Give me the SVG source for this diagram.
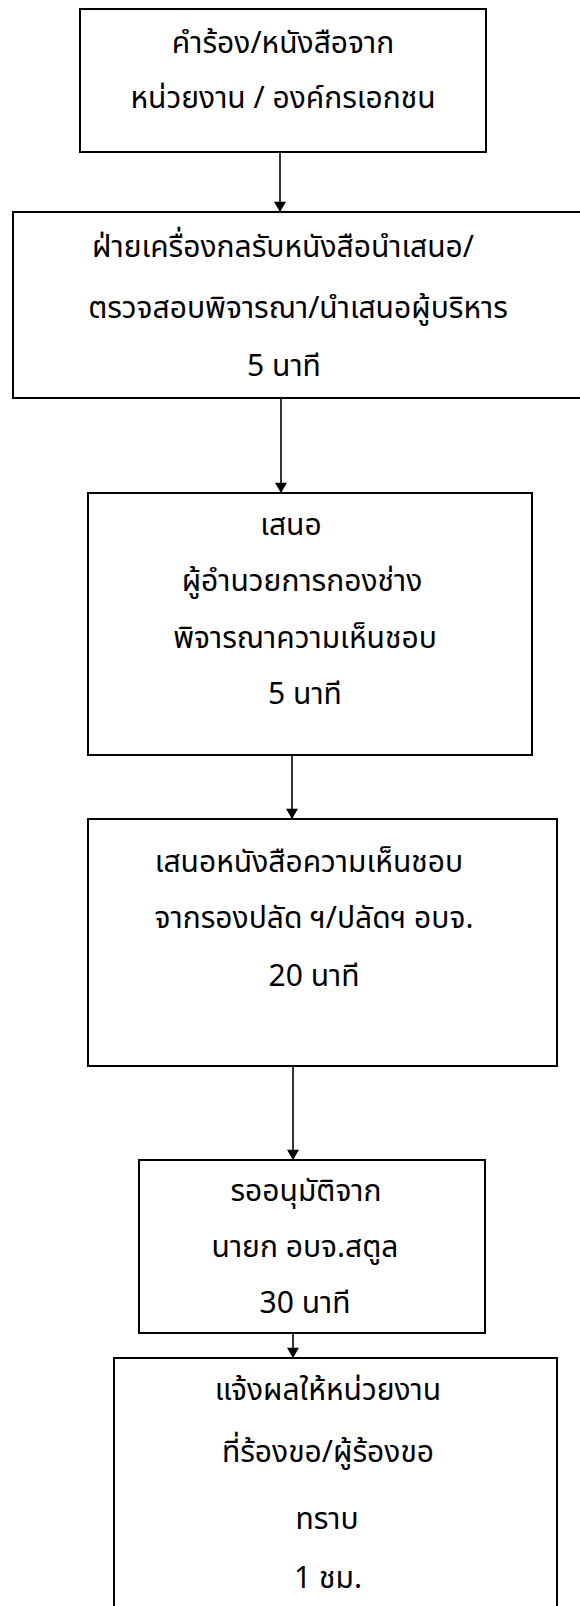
<svg xmlns="http://www.w3.org/2000/svg" width="580" height="1606" viewBox="0 0 580 1606">
<style>
.box{fill:#fff;stroke:#000;stroke-width:2}
.t{font-family:Tahoma,"Noto Sans Thai","Noto Sans Thai UI",Loma,Garuda,"Noto Sans",sans-serif;font-size:30px;fill:#000;text-anchor:middle}
.c{stroke:#000;stroke-width:1.6;fill:none}
</style>
<defs>
<marker id="ah" viewBox="0 0 12 14" refX="12" refY="7" markerWidth="14" markerHeight="12" markerUnits="userSpaceOnUse" orient="auto">
<path d="M0,0 L12,7 L0,14 Z" fill="#000"/>
</marker>
</defs>
<rect width="580" height="1606" fill="#fff"/>
<g id="connectors">
<line class="c" x1="280" y1="152" x2="280" y2="212" marker-end="url(#ah)"/>
<line class="c" x1="281" y1="398" x2="281" y2="493" marker-end="url(#ah)"/>
<line class="c" x1="292" y1="755" x2="292" y2="819" marker-end="url(#ah)"/>
<line class="c" x1="293" y1="1066" x2="293" y2="1160" marker-end="url(#ah)"/>
<line class="c" x1="293" y1="1333" x2="293" y2="1358" marker-end="url(#ah)"/>
</g>
<g id="n1">
<rect class="box" x="80" y="9" width="406" height="143"/>
<text class="t" x="283" y="53">คำร้อง/หนังสือจาก</text>
<text class="t" x="283" y="108">หน่วยงาน / องค์กรเอกชน</text>
</g>
<g id="n2">
<rect class="box" x="13" y="212" width="600" height="186"/>
<text class="t" x="283" y="257">ฝ่ายเครื่องกลรับหนังสือนำเสนอ/</text>
<text class="t" x="298" y="318">ตรวจสอบพิจารณา/นำเสนอผู้บริหาร</text>
<text class="t" x="284" y="376">5 นาที</text>
</g>
<g id="n3">
<rect class="box" x="88" y="493" width="444" height="262"/>
<text class="t" x="291" y="535">เสนอ</text>
<text class="t" x="302" y="591">ผู้อำนวยการกองช่าง</text>
<text class="t" x="305" y="648">พิจารณาความเห็นชอบ</text>
<text class="t" x="305" y="704">5 นาที</text>
</g>
<g id="n4">
<rect class="box" x="88" y="819" width="469" height="247"/>
<text class="t" x="309" y="872">เสนอหนังสือความเห็นชอบ</text>
<text class="t" x="314" y="928">จากรองปลัด ฯ/ปลัดฯ อบจ.</text>
<text class="t" x="314" y="986">20 นาที</text>
</g>
<g id="n5">
<rect class="box" x="139" y="1160" width="346" height="173"/>
<text class="t" x="306" y="1201">รออนุมัติจาก</text>
<text class="t" x="305" y="1257">นายก อบจ.สตูล</text>
<text class="t" x="305" y="1313">30 นาที</text>
</g>
<g id="n6">
<rect class="box" x="114" y="1358" width="443" height="262"/>
<text class="t" x="328" y="1400">แจ้งผลให้หน่วยงาน</text>
<text class="t" x="328" y="1462">ที่ร้องขอ/ผู้ร้องขอ</text>
<text class="t" x="327" y="1529">ทราบ</text>
<text class="t" x="328" y="1588">1 ชม.</text>
</g>
</svg>
